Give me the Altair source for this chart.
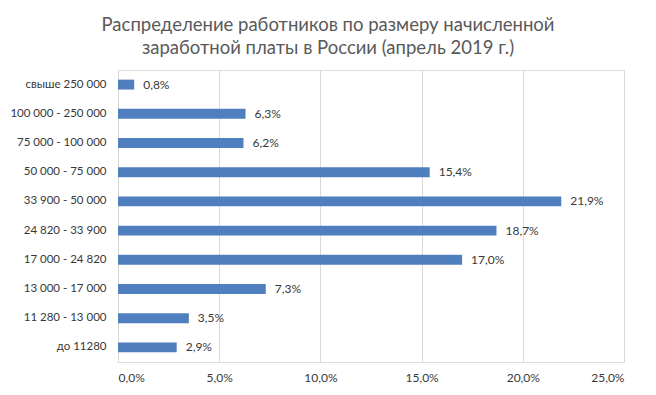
import altair as alt
import pandas as pd

categories = ["свыше  250 000", "100 000 - 250 000", "75 000 - 100 000", "50 000 - 75 000",
              "33 900 - 50 000", "24 820 - 33 900", "17 000 - 24 820", "13 000 - 17 000",
              "11 280 - 13 000", "до 11280"]
values = [0.8, 6.3, 6.2, 15.4, 21.9, 18.7, 17.0, 7.3, 3.5, 2.9]
x_ticks = [0, 5, 10, 15, 20, 25]

df = pd.DataFrame({"cat": categories, "val": [v / 100 for v in values]})
df["lbl"] = [f"{v:.1f}%".replace(".", ",") for v in values]

FONT = "Lato"
TXT = "#383838"
base = alt.Chart(df)

y_enc = alt.Y("cat:N", sort=categories, title=None,
              scale=alt.Scale(paddingInner=0.66, paddingOuter=0.33),
              axis=alt.Axis(labelFont=FONT, labelFontSize=11.5, labelColor=TXT,
                            labelPadding=12, ticks=False, domain=False, grid=False))
x_enc = alt.X("val:Q", title=None,
              scale=alt.Scale(domain=[0, 0.25], nice=False),
              axis=alt.Axis(values=[t / 100 for t in x_ticks],
                            labelExpr="replace(format(datum.value, '.1%'), '.', ',')",
                            labelFont=FONT, labelFontSize=12, labelColor=TXT,
                            labelPadding=10, ticks=False, domain=False,
                            grid=True, gridColor="#d9d9d9", gridWidth=1))

bars = base.mark_bar(color="#4f7fbe").encode(x=x_enc, y=y_enc)
text = base.mark_text(align="left", dx=9, font=FONT, fontSize=12, color=TXT).encode(
    x="val:Q", y=alt.Y("cat:N", sort=categories), text="lbl:N")

chart = (bars + text).properties(
    width=506, height=292,
    autosize=alt.AutoSizeParams(type="none"),
    padding={"left": 110, "top": 62, "right": 24, "bottom": 25},
    title=alt.TitleParams(
        text=["Распределение работников по размеру начисленной",
              "заработной платы  в России (апрель 2019 г.)"],
        font=FONT, fontSize=18.5, fontWeight="normal", color="#595959",
        lineHeight=23, anchor="middle", dx=-43, offset=13),
).configure_view(stroke=None).configure(background="white")

chart.save("out.html", embed_options={"renderer": "svg", "actions": False})
